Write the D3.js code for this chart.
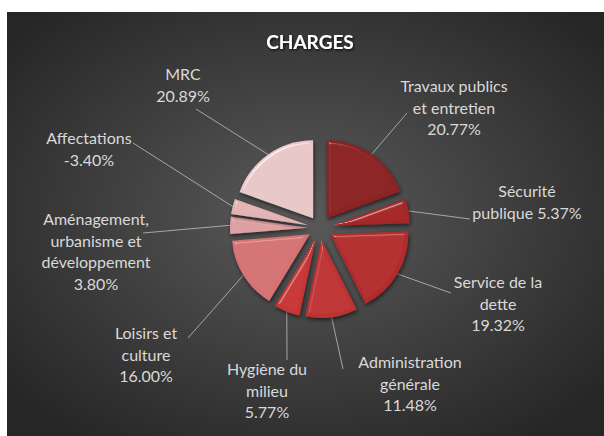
<!DOCTYPE html>
<html>
<head>
<meta charset="utf-8">
<script src="https://cdn.jsdelivr.net/npm/d3@7"></script>
<style>
  html, body { margin: 0; padding: 0; background: #fff; }
  svg { display: block; }
  .lbl { font-family: Lato, "Open Sans", sans-serif; font-size: 16px; fill: #d9d9d9; }
  .title { font-family: Lato, "Open Sans", sans-serif; font-size: 19px; font-weight: bold; fill: #fff; }
</style>
</head>
<body>
<svg id="chart" width="604" height="436"></svg>
<script>
// chart data
const categories = [
  'Travaux publics et entretien', 'Sécurité publique', 'Service de la dette',
  'Administration générale', 'Hygiène du milieu', 'Loisirs et culture',
  'Aménagement, urbanisme et développement', 'Affectations', 'MRC'
];
const values = [20.77, 5.37, 19.32, 11.48, 5.77, 16.00, 3.80, -3.40, 20.89];
// label text as it wraps in the picture, {p} = percent
const labelText = [
  'Travaux publics\net entretien\n{p}', 'Sécurité\npublique {p}', 'Service de la\ndette\n{p}',
  'Administration\ngénérale\n{p}', 'Hygiène du\nmilieu\n{p}', 'Loisirs et\nculture\n{p}',
  'Aménagement,\nurbanisme et\ndéveloppement\n{p}', 'Affectations\n{p}', 'MRC\n{p}'
];
const colors = ['#8c2020', '#a52626', '#b32c2c', '#bf3333', '#c73636', '#d57373', '#dea0a0', '#e3b3b3', '#e8c8c8'];

// layout: label block centre (x, first baseline) and leader line end
const labelPos = [
  [454, 92], [527, 197], [498, 288], [410, 368], [267, 375],
  [146, 339], [96, 225], [89, 144], [183, 80]
];
const leaderEnd = [
  [407, 113], [470, 219], [451, 293], [343, 369], [287, 360],
  [188, 338], [143, 233], [133, 143], [196, 109]
];

const W = 604, H = 436;
const cx = 320, cy = 228, R = 78, explode = 12;

const svg = d3.select('#chart');
const defs = svg.append('defs');

const bg = defs.append('radialGradient').attr('id', 'bg')
  .attr('cx', '50%').attr('cy', '48%').attr('r', '65%');
bg.append('stop').attr('offset', '0%').attr('stop-color', '#5a5a5a');
bg.append('stop').attr('offset', '100%').attr('stop-color', '#262626');

// soft bevel: highlight on edges facing the light, plus drop shadow
const f = defs.append('filter').attr('id', 'bevel')
  .attr('x', '-20%').attr('y', '-20%').attr('width', '140%').attr('height', '140%');
f.append('feGaussianBlur').attr('in', 'SourceAlpha').attr('stdDeviation', 1.5).attr('result', 'blur');
f.append('feSpecularLighting').attr('in', 'blur').attr('surfaceScale', 4)
  .attr('specularConstant', 1).attr('specularExponent', 30)
  .attr('lighting-color', '#ffffff').attr('result', 'spec')
  .append('feDistantLight').attr('azimuth', 235).attr('elevation', 30);
f.append('feComposite').attr('in', 'spec').attr('in2', 'SourceAlpha').attr('operator', 'in').attr('result', 'specIn');
f.append('feComposite').attr('in', 'SourceGraphic').attr('in2', 'specIn').attr('operator', 'arithmetic')
  .attr('k1', 0).attr('k2', 1).attr('k3', 0.4).attr('k4', 0).attr('result', 'lit');
f.append('feGaussianBlur').attr('in', 'SourceAlpha').attr('stdDeviation', 2).attr('result', 'sh');
f.append('feOffset').attr('in', 'sh').attr('dx', 1).attr('dy', 2).attr('result', 'shOff');
f.append('feComponentTransfer').attr('in', 'shOff').attr('result', 'shDim')
  .append('feFuncA').attr('type', 'linear').attr('slope', 0.6);
const m = f.append('feMerge');
m.append('feMergeNode').attr('in', 'shDim');
m.append('feMergeNode').attr('in', 'lit');

const tf = defs.append('filter').attr('id', 'tshadow');
tf.append('feDropShadow').attr('dx', 1).attr('dy', 1.5).attr('stdDeviation', 1)
  .attr('flood-color', '#000').attr('flood-opacity', 0.7);

svg.append('rect').attr('x', 7).attr('y', 12).attr('width', W - 7).attr('height', H - 12)
  .attr('fill', 'url(#bg)');

svg.append('text').attr('class', 'title').attr('x', 310).attr('y', 49)
  .attr('text-anchor', 'middle').attr('filter', 'url(#tshadow)').text('CHARGES');

const data = categories.map((c, i) => ({ name: c, value: values[i], i }));
const pie = d3.pie().sort(null).value(d => Math.abs(d.value));
const arcs = pie(data);
const arc = d3.arc().innerRadius(0).outerRadius(R);

function shift(a) {
  const m = (a.startAngle + a.endAngle) / 2;
  return [Math.sin(m) * explode, -Math.cos(m) * explode];
}

const g = svg.append('g').attr('transform', `translate(${cx},${cy})`);

// leader lines
const fmt = v => d3.format('.2f')(v).replace('−', '-');
g.selectAll('polyline.leader').data(arcs).join('polyline')
  .attr('class', 'leader')
  .attr('fill', 'none').attr('stroke', '#bfbfbf').attr('stroke-width', 0.8)
  .attr('points', d => {
    const [sx, sy] = shift(d);
    const m = (d.startAngle + d.endAngle) / 2;
    const px = sx + Math.sin(m) * R, py = sy - Math.cos(m) * R;
    const e = leaderEnd[d.data.i];
    return `${px},${py} ${e[0] - cx},${e[1] - cy}`;
  });

g.selectAll('path.slice').data(arcs).join('path')
  .attr('class', 'slice')
  .attr('transform', d => `translate(${shift(d)})`)
  .attr('d', arc)
  .attr('fill', d => colors[d.data.i])
  .attr('filter', 'url(#bevel)');

// labels
const lineH = 21.5;
arcs.forEach(d => {
  const i = d.data.i;
  const lines = labelText[i].replace('{p}', fmt(d.data.value) + '%').split('\n');
  const t = svg.append('text').attr('class', 'lbl').attr('text-anchor', 'middle');
  lines.forEach((s, k) => {
    t.append('tspan').attr('x', labelPos[i][0]).attr('y', labelPos[i][1] + k * lineH).text(s);
  });
});
</script>
</body>
</html>
